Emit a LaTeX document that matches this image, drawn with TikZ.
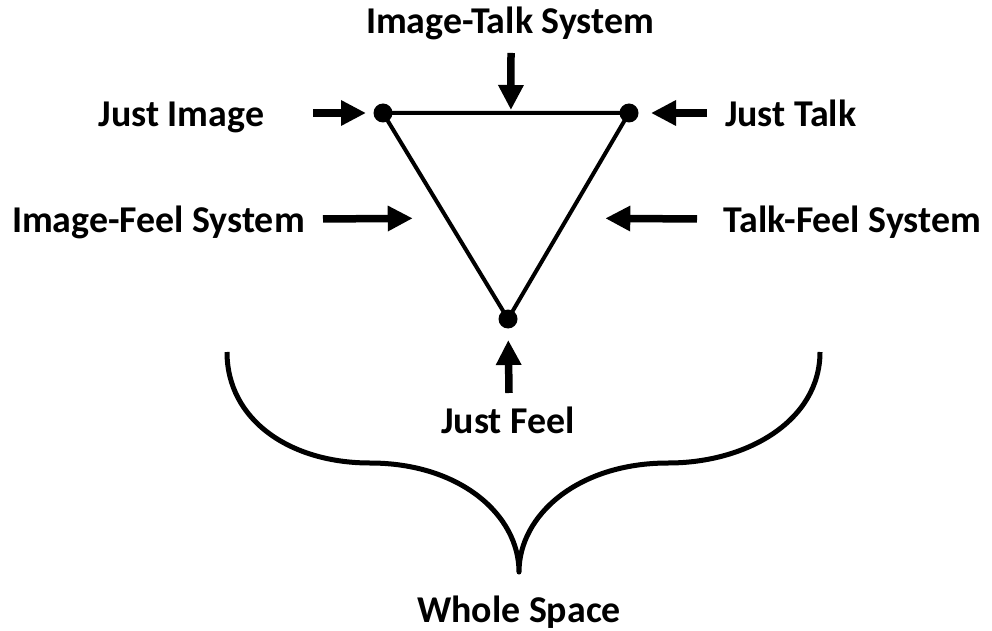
\documentclass[tikz,border=0pt]{standalone}
\usepackage{fontspec}
\setmainfont{Carlito}
\usetikzlibrary{positioning,arrows.meta}

\begin{document}
\begin{tikzpicture}[x=1bp,y=-1bp,line width=4bp,line join=round,
                    fat/.style={line width=7.5bp,-{Triangle[length=25bp,width=24bp]}}]
      \tikzstyle{every node}=[inner sep=0pt,font=\fontsize{38}{40}\selectfont\bfseries]
      \tikzstyle{vertex}=[circle,fill=black,minimum size=19bp]

      \useasboundingbox (0,0) rectangle (992,631);

      % corners of the triangle
      \node[vertex] (vimg)  at (383,113) {};
      \node[vertex] (vtalk) at (629,113) {};
      \node[vertex] (vfeel) at (508,319) {};

      \draw (vimg.center) -- (vtalk.center) coordinate[pos=0.52] (itm)
            -- (vfeel.center) coordinate[pos=0.51] (tfm)
            -- (vimg.center) coordinate[pos=0.49] (ifm);

      % labels
      \node[anchor=base]      (imgtalk)  at (510,34)  {Image-Talk System};
      \node[anchor=base east] (justimg)  at (266,127) {Just Image};
      \node[anchor=base west] (justtalk) at (723,127) {Just Talk};
      \node[anchor=base west] (imgfeel)  at (10,233)  {Image-Feel System};
      \node[anchor=base east] (talkfeel) at (983,233) {Talk-Feel System};
      \node[anchor=base]      (justfeel) at (508,433) {Just Feel};
      \node[anchor=base]      (whole)    at (519,622) {Whole Space};

      % arrow tails
      \coordinate (timg)  at (313,113);
      \coordinate (ttalk) at (707,113);
      \coordinate (tit)   at (511,53);
      \coordinate (tif)   at (323,219);
      \coordinate (ttf)   at (697,219);
      \coordinate (tfeel) at (509,393);

      \draw[fat,shorten >=5.5bp]  (timg)  -- (vimg);
      \draw[fat,shorten >=10.5bp] (ttalk) -- (vtalk);
      \draw[fat,shorten >=3bp]    (tit)   -- (itm);
      \draw[fat,shorten >=34bp]   (tif)   -- (ifm);
      \draw[fat,shorten >=38bp]   (ttf)   -- (tfm);
      \draw[fat,shorten >=9.5bp]  (tfeel) -- (vfeel);

      % the brace
      \draw[line width=5bp] (227,352) .. controls (227,420) and (290,463) .. (370,463)
            .. controls (460,463) and (519,515) .. (519,572)
            .. controls (519,515) and (578,463) .. (668,463)
            .. controls (748,463) and (820,420) .. (820,352);
\end{tikzpicture}
\end{document}
